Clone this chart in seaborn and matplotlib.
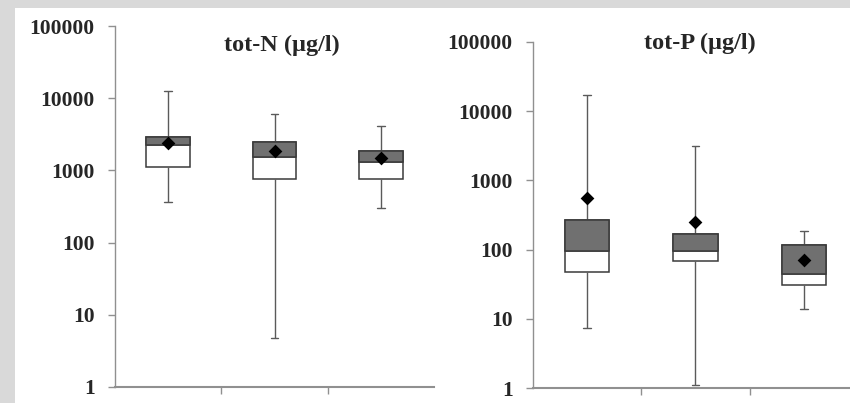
import numpy as np
import pandas as pd
import matplotlib
matplotlib.use("Agg")
import matplotlib.pyplot as plt
import seaborn as sns
from matplotlib.patches import Rectangle

sns.set_style("white")
plt.rcParams["font.family"] = ["Liberation Serif", "DejaVu Serif"]

# ---- data ----
categories = ["1", "2", "3"]

n_min = [365, 4.7, 300]
n_q1 = [1100, 750, 750]
n_med = [2230, 1510, 1310]
n_q3 = [2940, 2500, 1870]
n_max = [12600, 6100, 4120]
n_mean = [2420, 1850, 1480]

p_min = [7.3, 1.12, 14.1]
p_q1 = [48, 68, 30.6]
p_med = [97, 97, 44.6]
p_q3 = [265, 167, 117]
p_max = [17000, 3160, 188]
p_mean = [565, 250, 71]

titles = ["tot-N (\u00b5g/l)", "tot-P (\u00b5g/l)"]
ytick_values = [1, 10, 100, 1000, 10000, 100000]
ytick_labels = ["1", "10", "100", "1000", "10000", "100000"]

BOX_GRAY = "#707070"
EDGE = "#3a3a3a"
WHISK = "#5a5a5a"
AXIS_GRAY = "#909090"

fig = plt.figure(figsize=(8.5, 4.03), dpi=100)
fig.patch.set_facecolor("#d9d9d9")
fig.patches.append(Rectangle((15 / 850, 0), 1, 1 - 8 / 403, transform=fig.transFigure,
                             facecolor="white", edgecolor="none", zorder=-10))

ax1 = fig.add_axes([115 / 850, 16 / 403, 319 / 850, 361 / 403])
ax2 = fig.add_axes([533 / 850, 14.7 / 403, 325 / 850, 346.6 / 403])


def draw_panel(ax, vmin, q1, med, q3, vmax, mean, title, title_x, title_y):
    ax.set_facecolor("none")
    box_df = pd.DataFrame({
        "cat": np.repeat(categories, 5),
        "val": np.ravel(np.column_stack([vmin, q1, med, q3, vmax])),
    })
    upper_df = pd.DataFrame({"cat": categories,
                             "h": np.array(q3) - np.array(med)})
    mean_df = pd.DataFrame({"cat": categories, "val": mean})

    width = 0.41
    n_before = len(ax.lines)
    sns.boxplot(data=box_df, x="cat", y="val", order=categories, ax=ax,
                whis=(0, 100), width=width, log_scale=True, fill=True,
                color="white", linecolor=EDGE, linewidth=1.1,
                showfliers=False,
                boxprops=dict(facecolor="white", edgecolor=EDGE),
                whiskerprops=dict(color=WHISK, linewidth=1.0),
                capprops=dict(color=WHISK, linewidth=1.0),
                medianprops=dict(color=EDGE, linewidth=1.1))
    # shorten caps
    for ln in ax.lines[n_before:]:
        x = np.asarray(ln.get_xdata(), dtype=float)
        y = np.asarray(ln.get_ydata(), dtype=float)
        if len(x) == 2 and np.isclose(y[0], y[1]) and abs(x[1] - x[0]) < width * 0.9:
            c = x.mean()
            ln.set_xdata([c - 0.035, c + 0.035])

    sns.barplot(data=upper_df, x="cat", y="h", order=categories, ax=ax,
                bottom=np.array(med), width=width, color=BOX_GRAY,
                edgecolor=EDGE, linewidth=1.1, errorbar=None, saturation=1,
                zorder=3)
    sns.stripplot(data=mean_df, x="cat", y="val", order=categories, ax=ax,
                  jitter=False, marker="D", size=7, color="black",
                  linewidth=0, zorder=5)

    ax.set_yscale("log")
    ax.set_ylim(1, 100000)
    ax.set_xlim(-0.5, 2.5)
    ax.set_yticks(ytick_values)
    ax.set_yticklabels(ytick_labels, fontweight="bold", fontsize=15.5)
    ax.yaxis.set_minor_locator(matplotlib.ticker.NullLocator())
    ax.set_xticks([0.5, 1.5])
    ax.set_xticklabels([])
    ax.set_xlabel("")
    ax.set_ylabel("")
    ax.tick_params(axis="y", which="major", direction="out", length=5,
                   width=1, color=AXIS_GRAY, pad=9.5, left=True)
    ax.tick_params(axis="x", which="major", direction="out", length=5,
                   width=1, color=AXIS_GRAY, bottom=True)
    for s in ["top", "right"]:
        ax.spines[s].set_visible(False)
    ax.spines["left"].set_color(AXIS_GRAY)
    ax.spines["left"].set_linewidth(1.0)
    ax.spines["bottom"].set_color(AXIS_GRAY)
    ax.spines["bottom"].set_linewidth(1.5)
    ax.text(title_x, title_y, title, transform=ax.transAxes, ha="center",
            va="center", fontsize=17.5, fontweight="bold")


draw_panel(ax1, n_min, n_q1, n_med, n_q3, n_max, n_mean, titles[0],
           (282 - 115) / 319, (387 - 45) / 361)
draw_panel(ax2, p_min, p_q1, p_med, p_q3, p_max, p_mean, titles[1],
           (700 - 533) / 325, (388.3 - 43) / 346.6)

fig.savefig("out.png", dpi=100, facecolor=fig.get_facecolor())
